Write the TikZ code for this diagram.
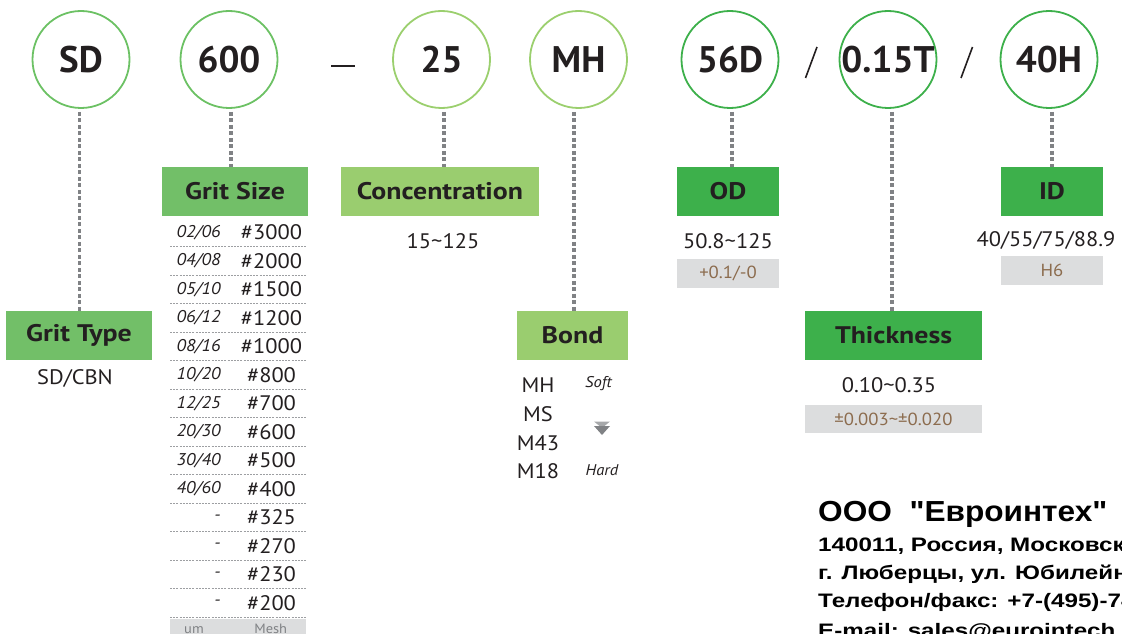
\documentclass[tikz,border=0pt]{standalone}
\usepackage{fontspec}
\setmainfont{PT Sans}[FakeStretch = 1.07]
\newfontfamily\codefont{PT Sans}
\newfontfamily\headfont{PT Sans}[FakeStretch = 1.16]
\newfontfamily\firmfont{Liberation Sans}[FakeStretch = 1.09]
\newfontfamily\addrfont{Liberation Sans}[FakeStretch = 1.24]

\definecolor{ringA}{HTML}{6CC164}
\definecolor{ringB}{HTML}{9BCF6E}
\definecolor{ringC}{HTML}{3DB04B}
\definecolor{boxA}{HTML}{72BF68}
\definecolor{boxB}{HTML}{9ACD6F}
\definecolor{boxC}{HTML}{3DB04B}
\definecolor{ink}{HTML}{231F20}
\definecolor{tolfill}{HTML}{DCDDDE}
\definecolor{tolink}{HTML}{8C6C4E}
\definecolor{leadgray}{HTML}{808285}
\definecolor{rulegray}{HTML}{9D9FA2}

\tikzset{
	code/.style = {circle, draw = #1, line width = 1.8pt, minimum size = 97pt, inner sep = 0pt, text = ink, font = \codefont\fontsize{37}{40}\selectfont\bfseries},
	head/.style = {fill = #1, minimum height = 49pt, inner sep = 0pt, text = ink, font = \headfont\fontsize{24}{26}\selectfont\bfseries},
	tol/.style = {fill = tolfill, text = tolink, inner sep = 0pt, font = \fontsize{17.5}{19}\selectfont},
	val/.style = {text = ink, inner sep = 0pt, font = \fontsize{21}{24}\selectfont},
	hint/.style = {text = ink, inner sep = 0pt, font = \fontsize{15.5}{17}\selectfont\itshape},
	um/.style = {anchor = east, text = ink, inner sep = 0pt, font = \fontsize{17}{19}\selectfont\itshape},
	mesh/.style = {text = ink, inner sep = 0pt, font = \fontsize{21}{24}\selectfont},
	leader/.style = {draw = leadgray, line width = 3.2pt, dash pattern = on 4pt off 2.5pt, shorten <= 3pt},
	rule/.style = {draw = rulegray, line width = 0.9pt, dash pattern = on 2pt off 1.2pt},
	legend/.style = {anchor = base, inner sep = 0pt, text = leadgray, font = \fontsize{13.5}{15}\selectfont},
	addr/.style = {anchor = base west, inner sep = 0pt, font = \addrfont\bfseries\fontsize{19.5}{19.5}\selectfont}
}

\begin{document}
\begin{tikzpicture}[x = 1pt, y = -1pt]
		
		\useasboundingbox (0, 0) rectangle (1122, 634);
		\clip (0, 0) rectangle (1122, 634);
		
		\node[code = ringA] (sd) at (81, 59.5) {SD};
		\node[code = ringA] (grit) at (229, 59.5) {600};
		\node[code = ringB] (conc) at (441.5, 59.5) {25};
		\node[code = ringB] (bond) at (578.5, 59.5) {MH};
		\node[code = ringC] (od) at (730, 59.5) {56D};
		\node[code = ringC] (thick) at (888, 59.5) {0.15T};
		\node[code = ringC] (id) at (1049, 59.5) {40H};
		
		\draw[ink, line width = 1.6pt] (331, 66) -- (355, 66);
		\draw[ink, line width = 1.6pt] (817, 47) -- (805.5, 78);
		\draw[ink, line width = 1.6pt] (972.5, 47) -- (961, 78);
		
		\node[head = boxA, minimum width = 146pt] (gtypebox) at (79, 335.5) {Grit Type};
		\node[head = boxA, minimum width = 146pt] (gsizebox) at (235, 191.5) {Grit Size};
		\node[head = boxB, minimum width = 198pt] (concbox) at (440, 191.5) {Concentration};
		\node[head = boxB, minimum width = 111pt] (bondbox) at (572.5, 335.5) {Bond};
		\node[head = boxC, minimum width = 102pt] (odbox) at (728, 191.5) {OD};
		\node[head = boxC, minimum width = 177pt] (thickbox) at (893.5, 335.5) {Thickness};
		\node[head = boxC, minimum width = 102pt] (idbox) at (1052, 191.5) {ID};
		
		\draw[leader] ([xshift = -1.5pt]sd.south) -- ([xshift = -1.5pt]sd.south |- gtypebox.north);
		\draw[leader] ([xshift = 2pt]grit.south) -- ([xshift = 2pt]grit.south |- gsizebox.north);
		\draw[leader] ([xshift = 2.5pt]conc.south) -- ([xshift = 2.5pt]conc.south |- concbox.north);
		\draw[leader] ([xshift = -4.5pt]bond.south) -- ([xshift = -4.5pt]bond.south |- bondbox.north);
		\draw[leader] ([xshift = 2pt]od.south) -- ([xshift = 2pt]od.south |- odbox.north);
		\draw[leader] ([xshift = 4pt]thick.south) -- ([xshift = 4pt]thick.south |- thickbox.north);
		\draw[leader] ([xshift = 3pt]id.south) -- ([xshift = 3pt]id.south |- idbox.north);
		
		\node[val] (gtypeval) at (75, 378) {SD/CBN};
		\node[val] (concval) at (443, 241) {15\textasciitilde125};
		\node[val] (odval) at (728, 241) {50.8\textasciitilde125};
		\node[tol, minimum width = 102pt, minimum height = 29pt] (odtol) at (728, 273.5) {+0.1/-0};
		\node[val] (idval) at (1046, 240) {40/55/75/88.9};
		\node[tol, minimum width = 102pt, minimum height = 29pt] (idtol) at (1052, 270.5) {H6};
		\node[val] (thickval) at (889, 385) {0.10\textasciitilde0.35};
		\node[tol, minimum width = 177pt, minimum height = 28pt] (thicktol) at (893.5, 419) {±0.003\textasciitilde±0.020};
		
		\node[val] (mh) at (538, 385) {MH};
		\node[val] (ms) at (538, 414) {MS};
		\node[val] (m43) at (538, 443) {M43};
		\node[val] (m18) at (538, 471) {M18};
		\node[hint] (soft) at (598.5, 384) {Soft};
		\node[hint] (hard) at (602, 470) {Hard};
		\fill[leadgray!70] (594, 421.5) -- (610, 421.5) -- (602, 428) -- cycle;
		\fill[leadgray] (594, 426) -- (610, 426) -- (602, 435) -- cycle;
		
		\node[um] (um1) at (220.7, 232.5) {02/06};
		\node[mesh] (mesh1) at (271.5, 232.5) {\#3000};
		\draw[rule] (170, 246.8) -- (305.7, 246.8);
		\node[um] (um2) at (220.7, 261) {04/08};
		\node[mesh] (mesh2) at (271.5, 261) {\#2000};
		\draw[rule] (170, 275.3) -- (305.7, 275.3);
		\node[um] (um3) at (220.7, 289.5) {05/10};
		\node[mesh] (mesh3) at (271.5, 289.5) {\#1500};
		\draw[rule] (170, 303.8) -- (305.7, 303.8);
		\node[um] (um4) at (220.7, 318) {06/12};
		\node[mesh] (mesh4) at (271.5, 318) {\#1200};
		\draw[rule] (170, 332.3) -- (305.7, 332.3);
		\node[um] (um5) at (220.7, 346.5) {08/16};
		\node[mesh] (mesh5) at (271.5, 346.5) {\#1000};
		\draw[rule] (170, 360.8) -- (305.7, 360.8);
		\node[um] (um6) at (220.7, 375) {10/20};
		\node[mesh] (mesh6) at (271.5, 375) {\#800};
		\draw[rule] (170, 389.3) -- (305.7, 389.3);
		\node[um] (um7) at (220.7, 403.5) {12/25};
		\node[mesh] (mesh7) at (271.5, 403.5) {\#700};
		\draw[rule] (170, 417.8) -- (305.7, 417.8);
		\node[um] (um8) at (220.7, 432) {20/30};
		\node[mesh] (mesh8) at (271.5, 432) {\#600};
		\draw[rule] (170, 446.3) -- (305.7, 446.3);
		\node[um] (um9) at (220.7, 460.5) {30/40};
		\node[mesh] (mesh9) at (271.5, 460.5) {\#500};
		\draw[rule] (170, 474.8) -- (305.7, 474.8);
		\node[um] (um10) at (220.7, 489) {40/60};
		\node[mesh] (mesh10) at (271.5, 489) {\#400};
		\draw[rule] (170, 503.3) -- (305.7, 503.3);
		\node[um] (um11) at (220.7, 517.5) {-};
		\node[mesh] (mesh11) at (271.5, 517.5) {\#325};
		\draw[rule] (170, 531.8) -- (305.7, 531.8);
		\node[um] (um12) at (220.7, 546) {-};
		\node[mesh] (mesh12) at (271.5, 546) {\#270};
		\draw[rule] (170, 560.3) -- (305.7, 560.3);
		\node[um] (um13) at (220.7, 574.5) {-};
		\node[mesh] (mesh13) at (271.5, 574.5) {\#230};
		\draw[rule] (170, 588.8) -- (305.7, 588.8);
		\node[um] (um14) at (220.7, 603) {-};
		\node[mesh] (mesh14) at (271.5, 603) {\#200};
		\draw[rule] (170, 617.3) -- (305.7, 617.3);
		
		\fill[tolfill] (170, 619) rectangle (305.7, 640);
		\node[legend] (umlabel) at (194, 633) {um};
		\node[legend] (meshlabel) at (270.7, 633) {Mesh};
		
		\node[anchor = base west, inner sep = 0pt, font = \firmfont\bfseries\fontsize{29}{29}\selectfont] (firm) at (818, 521.7) {ООО\ \ "Евроинтех"};
		\node[addr] (street) at (818, 551) {140011, Россия, Московск};
		\node[addr] (town) at (818, 579) {г. Люберцы, ул. Юбилейн};
		\node[addr] (phone) at (818, 607) {Телефон/факс: +7-(495)-74};
		\node[addr] (mail) at (818, 637) {E-mail: sales@eurointech.r};
		
	\end{tikzpicture}
\end{document}
